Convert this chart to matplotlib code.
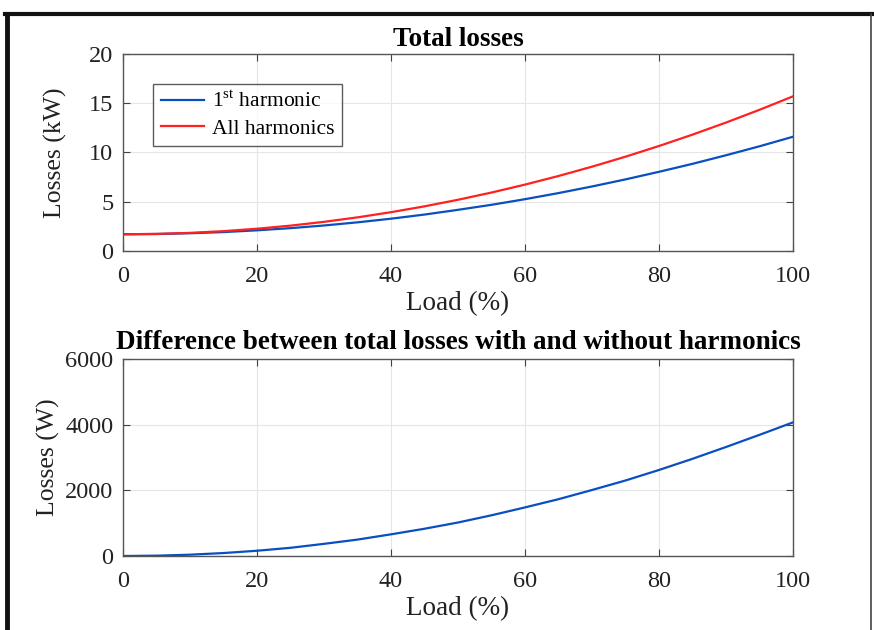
import matplotlib
matplotlib.use("Agg")
import matplotlib.pyplot as plt
from matplotlib.lines import Line2D

load = [0, 5, 10, 15, 20, 25, 30, 35, 40, 45, 50, 55, 60, 65, 70, 75, 80, 85, 90, 95, 100]
loss_1st = [1.70, 1.725, 1.80, 1.92, 2.10, 2.32, 2.59, 2.91, 3.28, 3.70, 4.18, 4.69, 5.26,
            5.88, 6.55, 7.27, 8.04, 8.85, 9.72, 10.63, 11.60]
loss_all = [1.70, 1.735, 1.84, 2.015, 2.26, 2.575, 2.96, 3.415, 3.94, 4.535, 5.20, 5.935, 6.74,
            7.615, 8.56, 9.575, 10.66, 11.815, 13.04, 14.335, 15.70]
loss_diff = [0, 10, 40, 90, 160, 250, 370, 500, 660, 830, 1020, 1240, 1480, 1730, 2010,
             2300, 2620, 2960, 3320, 3690, 4070]

xticks = [0, 20, 40, 60, 80, 100]
yticks_top = [0, 5, 10, 15, 20]
yticks_bot = [0, 2000, 4000, 6000]

plt.rcParams['font.family'] = ['Liberation Serif', 'DejaVu Serif']
plt.rcParams['mathtext.fontset'] = 'custom'
plt.rcParams['mathtext.rm'] = 'Liberation Serif'

fig = plt.figure(figsize=(8.74, 6.30), dpi=100)

L, W, H = 123/874, 670/874, 197/630
ax1 = fig.add_axes([L, 1 - 251/630, W, H])
ax2 = fig.add_axes([L, 1 - 556/630, W, H])

blue = '#0a4fc0'
red = '#ff2020'

def style(ax):
    ax.set_xlim(0, 100)
    ax.set_xticks(xticks)
    ax.grid(True, color='#e6e6e6', linewidth=0.8)
    ax.set_axisbelow(True)
    ax.tick_params(direction='in', top=True, right=True, length=5, width=0.8,
                   colors='#404040', labelcolor='#222222', labelsize=17.5)
    ax.tick_params(axis='x', pad=11)
    ax.tick_params(axis='y', pad=7)
    for s in ax.spines.values():
        s.set_color('#555555')
        s.set_linewidth(1.0)
    ax.set_xlabel('Load (%)', fontsize=19.5, color='#222222', labelpad=3)

ax1.plot(load, loss_1st, color=blue, linewidth=1.6, label='1$^{\\mathrm{st}}$ harmonic')
ax1.plot(load, loss_all, color=red, linewidth=1.6, label='All harmonics')
ax1.set_ylim(0, 20)
ax1.set_yticks(yticks_top)
style(ax1)
ax1.set_ylabel('Losses (kW)', fontsize=18.5, color='#222222')
ax1.yaxis.set_label_coords(-0.0836, 0.5)
ax1.set_title('Total losses', fontsize=19.5, fontweight='bold', pad=6)
leg = ax1.legend(loc='upper left', bbox_to_anchor=(0.045, 0.85), fontsize=15.5,
                 frameon=True, fancybox=False, edgecolor='#333333', handlelength=2.0,
                 borderpad=0.35, labelspacing=0.3, handletextpad=0.4, borderaxespad=0)
leg.get_frame().set_linewidth(1.0)

ax2.plot(load, loss_diff, color=blue, linewidth=1.6)
ax2.set_ylim(0, 6000)
ax2.set_yticks(yticks_bot)
style(ax2)
ax2.set_ylabel('Losses (W)', fontsize=18.5, color='#222222')
ax2.yaxis.set_label_coords(-0.094, 0.5)
ax2.set_title('Difference between total losses with and without harmonics',
              fontsize=19.5, fontweight='bold', pad=7)

# outer screenshot frame
fig.add_artist(Line2D([7/874, 7/874], [0, 1 - 14/630], transform=fig.transFigure,
                      color='#111111', linewidth=3.5))
fig.add_artist(Line2D([5/874, 874/874], [1 - 14/630, 1 - 14/630], transform=fig.transFigure,
                      color='#111111', linewidth=3))
fig.add_artist(Line2D([871/874, 871/874], [0, 1 - 14/630], transform=fig.transFigure,
                      color='#444444', linewidth=1.2))

fig.savefig('out.png', dpi=100)
